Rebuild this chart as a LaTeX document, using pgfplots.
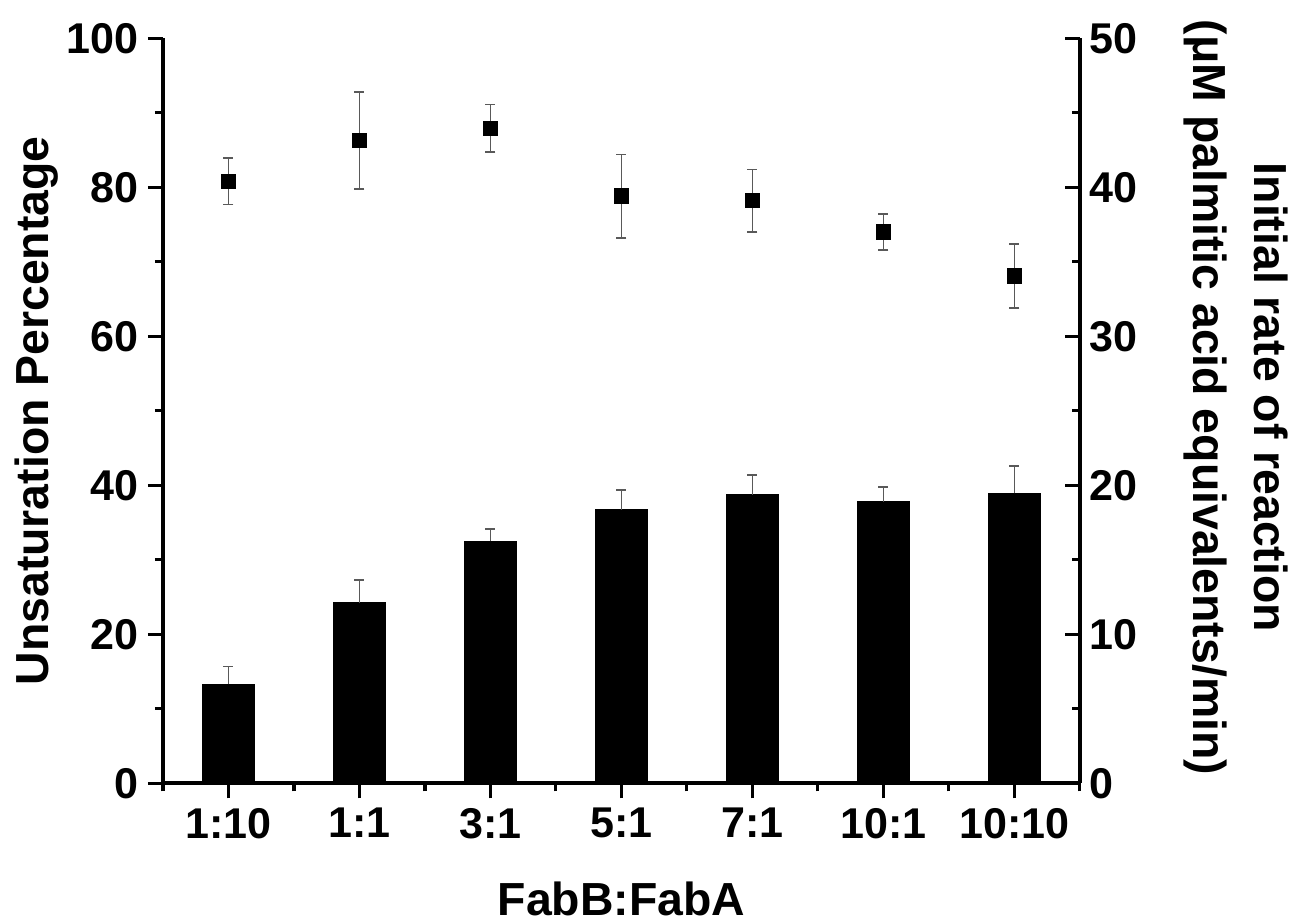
\documentclass[border=0pt]{standalone}
\usepackage{pgfplots}
\pgfplotsset{compat=1.18}
\usepackage{fontspec}
\setmainfont{Liberation Sans}
\begin{document}
\begin{tikzpicture}
\useasboundingbox (-58.68pt,-50.29pt) rectangle (408.24pt,281.99pt);
\pgfplotsset{
  every axis/.append style={
    scale only axis, width=330.1pt, height=268.2pt,
    xmin=-0.5, xmax=6.5,
    /pgf/number format/assume math mode=true,
    tick label style={font=\fontsize{15.5}{18}\selectfont\bfseries},
    label style={font=\fontsize{16.7}{22}\selectfont\bfseries},
    axis line style={line width=1.3pt},
    major tick style={line width=1.1pt, black},
    minor tick style={line width=1.1pt, black},
    major tick length=5.4pt, minor tick length=2.9pt,
  }
}
\begin{axis}[
  axis x line*=bottom, axis y line*=left,
  tick align=outside,
  ymin=0, ymax=100,
  ytick={0,20,...,100}, minor ytick={10,30,...,90},
  xtick={0,...,6}, xticklabels={1:10,1:1,3:1,5:1,7:1,10:1,10:10},
  minor xtick={-0.5,0.5,...,6.5},
  xlabel={FabB:FabA}, ylabel={Unsaturation Percentage},
  xlabel style={at={(rel axis cs:0.5,-0.155)}, anchor=center},
  ylabel style={at={(rel axis cs:-0.138,0.5)}, anchor=center},
]
\addplot[only marks, mark=square*, mark size=2.6pt, black,
  error bars/.cd, y dir=both, y explicit,
  error bar style={line width=0.6pt, black!65},
  error mark options={rotate=90, mark size=1.8pt, line width=0.6pt, black!65}]
  table[x=x, y=y, y error=e] {
  x y e
  0 80.8 3.1
  1 86.3 6.5
  2 87.9 3.2
  3 78.8 5.6
  4 78.2 4.2
  5 74.0 2.4
  6 68.1 4.3
};
\end{axis}
\begin{axis}[
  axis y line*=right, axis x line=none,
  tick align=inside,
  ymin=0, ymax=50,
  ytick={0,10,...,50}, minor ytick={5,15,...,45},
  ylabel={Initial rate of reaction\\(μM palmitic acid equivalents/min)},
  ylabel style={at={(rel axis cs:1.17,0.518)}, anchor=center, rotate=180, align=center},
]
\addplot[ybar, bar width=0.4, fill=black, draw=black,
  error bars/.cd, y dir=plus, y explicit,
  error bar style={line width=0.6pt, black!65},
  error mark options={rotate=90, mark size=1.8pt, line width=0.6pt, black!65}]
  table[x=x, y=y, y error=e] {
  x y e
  0 6.65 1.20
  1 12.10 1.55
  2 16.25 0.80
  3 18.35 1.35
  4 19.35 1.35
  5 18.90 1.00
  6 19.45 1.85
};
\end{axis}
\end{tikzpicture}
\end{document}
